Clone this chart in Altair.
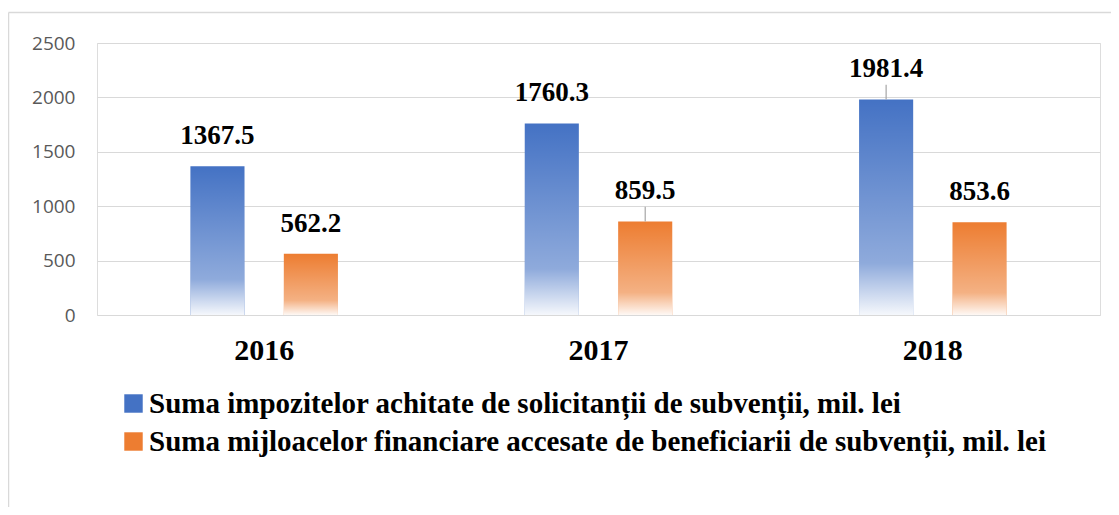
import altair as alt
import pandas as pd

years = ["2016", "2017", "2018"]
series_names = [
    "Suma impozitelor achitate de solicitanții de subvenții, mil. lei",
    "Suma mijloacelor financiare accesate de beneficiarii de subvenții, mil. lei",
]
taxes = [1367.5, 1760.3, 1981.4]
funds = [562.2, 859.5, 853.6]
leader_taxes = [False, False, True]
leader_funds = [False, True, False]
y_ticks = [0, 500, 1000, 1500, 2000, 2500]

rows = []
for i, yr in enumerate(years):
    rows.append({"year": yr, "series": series_names[0], "order": 0, "v": taxes[i], "leader": leader_taxes[i]})
    rows.append({"year": yr, "series": series_names[1], "order": 1, "v": funds[i], "leader": leader_funds[i]})
df = pd.DataFrame(rows)

W, H = 1003, 272

x = alt.X("year:N", title=None, sort=years,
          scale=alt.Scale(paddingInner=0, paddingOuter=0),
          axis=alt.Axis(labelFont="Liberation Serif", labelFontWeight="bold", labelFontSize=30,
                        labelColor="#000000", labelAngle=0, labelPadding=20,
                        ticks=False, domain=False, grid=False))
xo = alt.XOffset("series:N", sort=series_names,
                 scale=alt.Scale(paddingInner=0.421, paddingOuter=1))
y = alt.Y("v:Q", title=None,
          scale=alt.Scale(domain=[0, 2500], nice=False),
          axis=alt.Axis(values=y_ticks, format="d", labelFont="Open Sans", labelFontSize=19,
                        labelColor="#595959", labelPadding=22, ticks=False, domain=False,
                        grid=True, gridColor="#D9D9D9", gridWidth=1))

base = alt.Chart(df)

bars = base.mark_bar().encode(
    x=x, xOffset=xo, y=y,
    color=alt.Color("series:N", sort=series_names,
                    scale=alt.Scale(domain=series_names, range=["#4472C4", "#ED7D31"]),
                    legend=alt.Legend(title=None, orient="none", legendX=22, legendY=346,
                                      direction="vertical", symbolType="square", symbolSize=340,
                                      symbolStrokeWidth=0, labelFont="Liberation Serif",
                                      labelFontWeight="bold", labelFontSize=29, labelColor="#000000",
                                      labelLimit=1100, rowPadding=8, labelOffset=1, padding=0)),
)

overlay = base.mark_bar(
    color=alt.Gradient(
        gradient="linear", x1=0, y1=0, x2=0, y2=1,
        stops=[alt.GradientStop(color="rgba(255,255,255,0)", offset=0),
               alt.GradientStop(color="rgba(255,255,255,0.40)", offset=0.76),
               alt.GradientStop(color="rgba(255,255,255,0.95)", offset=1)],
    )
).encode(x=x, xOffset=xo, y=y)

leaders = base.transform_filter("datum.leader").transform_calculate(
    top="datum.v + 135"
).mark_rule(color="#A6A6A6", strokeWidth=1.2).encode(
    x=x, xOffset=xo, y=alt.Y("v:Q"), y2="top:Q")

labels = base.mark_text(font="Liberation Serif", fontWeight="bold", fontSize=27,
                        color="#000000", baseline="middle", dy=-30).encode(
    x=x, xOffset=xo, y=alt.Y("v:Q"), text=alt.Text("v:Q", format=".1f"))

one = pd.DataFrame({"k": [0]})
frame_top = alt.Chart(one).mark_rule(color="#D9D9D9", strokeWidth=1.5).encode(
    x=alt.value(-88.5), x2=alt.value(1020), y=alt.value(-30.5))
frame_left = alt.Chart(one).mark_rule(color="#D9D9D9", strokeWidth=1.5).encode(
    x=alt.value(-88.5), y=alt.value(-30.5), y2=alt.value(500))

chart = alt.layer(frame_top, frame_left, bars, overlay, leaders, labels).properties(
    width=W, height=H,
    autosize=alt.AutoSizeParams(type="none"),
    padding={"left": 89, "top": 35, "right": 11, "bottom": 192},
).configure_view(stroke=None).configure(background="white")

chart.save("out.html", embed_options={"renderer": "svg", "actions": False})
